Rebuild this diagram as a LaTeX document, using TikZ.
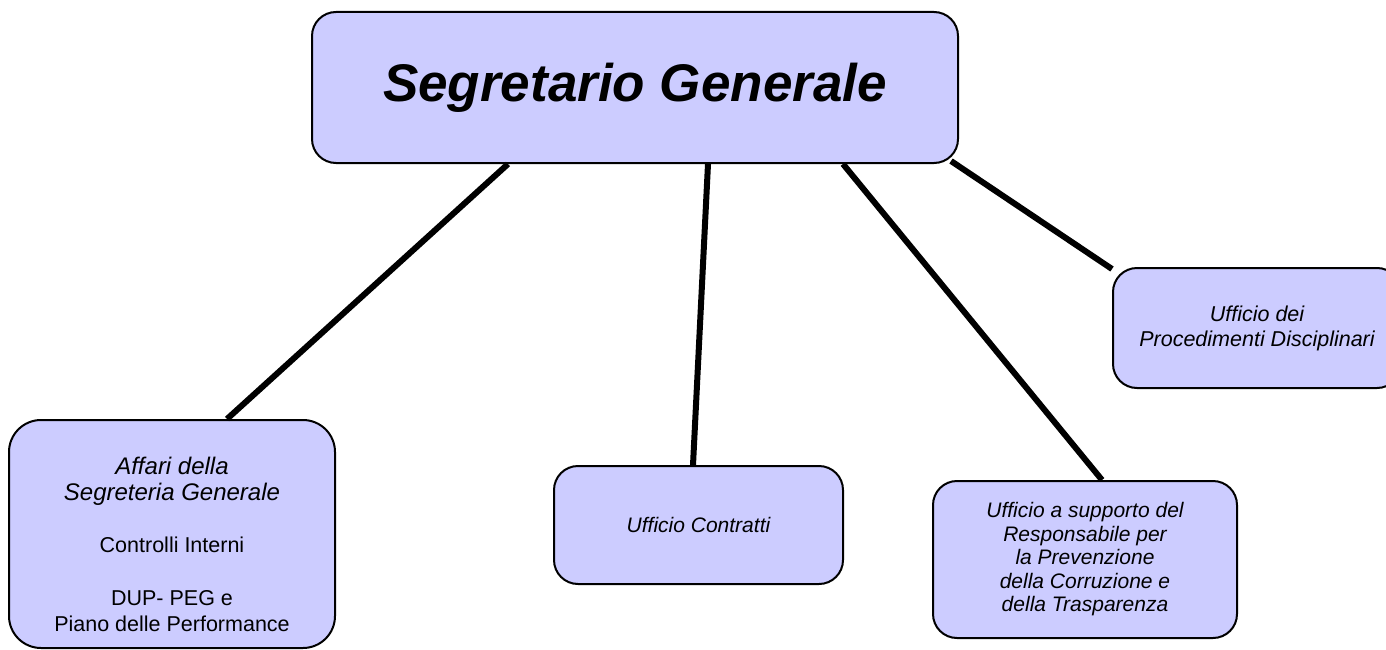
\documentclass[tikz,border=0pt]{standalone}
\usepackage{fontspec}
\setmainfont{Liberation Sans}
\definecolor{boxfill}{RGB}{204,204,255}

\begin{document}
\begin{tikzpicture}[x=1pt, y=-1pt,
office/.style={rectangle, rounded corners=24pt, draw=black, line width=2pt, fill=boxfill, inner sep=0pt, align=center, font=\fontsize{21}{23.5}\selectfont},
link/.style={line width=6pt}]

\useasboundingbox (0,0) rectangle (1386,650);

\node[office, minimum width=646pt, minimum height=151pt, font=\bfseries\itshape\fontsize{53}{60}\selectfont] (segr) at (635,87.5) {Segretario Generale};

\node[office, rounded corners=32pt, minimum width=326pt, minimum height=228pt, font=\fontsize{21.5}{26.2}\selectfont] (affari) at (172,534) {\rule{0pt}{38pt}\itshape\fontsize{24}{26.2}\selectfont Affari della\\ \itshape\fontsize{24}{26.2}\selectfont Segreteria Generale\\[26.2pt] \upshape\fontsize{21.5}{26.2}\selectfont Controlli Interni\\[26.2pt] \upshape DUP- PEG e\\ \upshape Piano delle Performance};
\node[office, minimum width=289pt, minimum height=118pt] (contratti) at (698.5,525) {\itshape Ufficio Contratti};
\node[office, minimum width=304pt, minimum height=157pt] (supporto) at (1085,559.5) {\itshape Ufficio a supporto del\\ \itshape Responsabile per\\ \itshape la Prevenzione\\ \itshape della Corruzione e\\ \itshape della Trasparenza};
\node[office, minimum width=288pt, minimum height=120pt, font=\fontsize{21.5}{25}\selectfont] (proc) at (1257,328) {\itshape Ufficio dei\\ \itshape Procedimenti Disciplinari};

\draw[link] ([xshift=-127pt]segr.south) -- ([xshift=55pt]affari.north);
\draw[link] ([xshift=73pt]segr.south) -- ([xshift=-5.5pt]contratti.north);
\draw[link] ([xshift=208pt]segr.south) -- ([xshift=17pt]supporto.north);
\draw[link] ([xshift=-8pt,yshift=3pt]segr.south east) -- ([yshift=-2pt]proc.north west);
\end{tikzpicture}
\end{document}
